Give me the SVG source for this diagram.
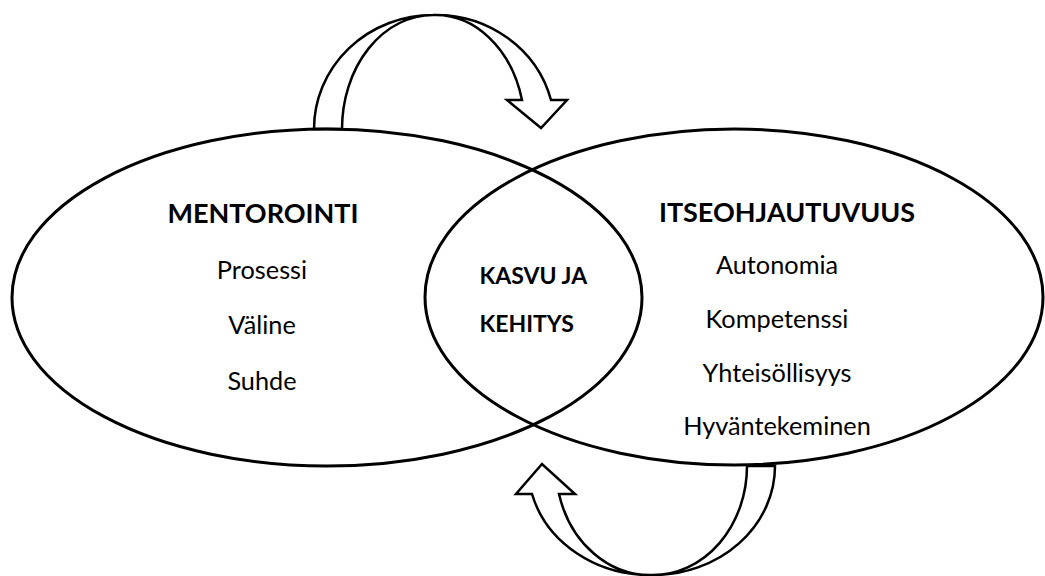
<svg xmlns="http://www.w3.org/2000/svg" width="1045" height="576" viewBox="0 0 1045 576">
<style>
.shape{fill:none;stroke:#000;stroke-width:3}
.arrow{fill:#fff;stroke:#000;stroke-width:2.5;stroke-linejoin:miter}
.title{font-family:Lato,"Liberation Sans",sans-serif;font-weight:bold;font-size:27px;fill:#000}
.item{font-family:Lato,"Liberation Sans",sans-serif;font-size:25.3px;fill:#000}
.mid{font-family:Lato,"Liberation Sans",sans-serif;font-weight:bold;font-size:23px;fill:#000}
</style>
<rect width="1045" height="576" fill="#fff"/>
<g id="connectors">
<path class="arrow" d="M314,129 A119,114 0 0 1 433,15 A119,114 0 0 1 551,100 L567,100 L541,128 L507,100 L522,100 A89,114 0 0 0 433,15 A91,114 0 0 0 342,129 Z"/>
<path class="arrow" d="M775,466 A122,109 0 0 1 653,575 A122,109 0 0 1 532,494 L516,494 L542,464 L575,494 L559,494 A94,109 0 0 0 653,575 A94,109 0 0 0 747,466 Z"/>
</g>
<g id="mentorointi">
<ellipse class="shape" cx="327" cy="297.5" rx="315" ry="168.5"/>
<text class="title" x="263" y="223" text-anchor="middle">MENTOROINTI</text>
<text class="item" x="262" y="278.5" text-anchor="middle">Prosessi</text>
<text class="item" x="262" y="334" text-anchor="middle">Väline</text>
<text class="item" x="262" y="389.5" text-anchor="middle">Suhde</text>
</g>
<g id="itseohjautuvuus">
<ellipse class="shape" cx="734" cy="297" rx="309" ry="168"/>
<text class="title" x="787" y="222" text-anchor="middle">ITSEOHJAUTUVUUS</text>
<text class="item" x="777" y="274" text-anchor="middle">Autonomia</text>
<text class="item" x="777" y="328" text-anchor="middle">Kompetenssi</text>
<text class="item" x="777" y="381.5" text-anchor="middle">Yhteisöllisyys</text>
<text class="item" x="777" y="435" text-anchor="middle">Hyväntekeminen</text>
</g>
<g id="kasvu">
<text class="mid" x="479.5" y="283.5">KASVU JA</text>
<text class="mid" x="479.5" y="331.5">KEHITYS</text>
</g>
</svg>
